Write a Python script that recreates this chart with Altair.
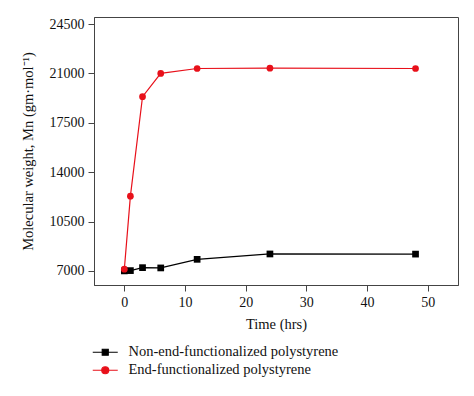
import altair as alt
import pandas as pd

time_hrs = [0, 1, 3, 6, 12, 24, 48]
non_end_mw = [7000, 7020, 7230, 7210, 7820, 8200, 8190]
end_mw = [7120, 12300, 19350, 21000, 21350, 21370, 21350]
series_names = ["Non-end-functionalized polystyrene", "End-functionalized polystyrene"]
series_colors = ["#000000", "#e8101a"]
x_ticks = [0, 10, 20, 30, 40, 50]
y_ticks = [7000, 10500, 14000, 17500, 21000, 24500]

rows = []
for t, v in zip(time_hrs, non_end_mw):
    rows.append({"t": t, "mw": v, "series": series_names[0]})
for t, v in zip(time_hrs, end_mw):
    rows.append({"t": t, "mw": v, "series": series_names[1]})
df = pd.DataFrame(rows)

FONT = "Liberation Serif"

x = alt.X("t:Q",
          scale=alt.Scale(domain=[-5, 55], nice=False, zero=False),
          axis=alt.Axis(values=x_ticks, title="Time (hrs)", grid=False,
                        tickSize=6, labelPadding=4, titlePadding=8,
                        titleFontWeight="normal"))
y = alt.Y("mw:Q",
          scale=alt.Scale(domain=[6000, 25000], nice=False, zero=False),
          axis=alt.Axis(values=y_ticks, title="Molecular weight, Mn (gm·mol⁻¹)",
                        grid=False, format="d", tickSize=6, labelPadding=4,
                        titlePadding=14, titleFontWeight="normal"))

color_scale = alt.Scale(domain=series_names, range=series_colors)

lines = alt.Chart(df).mark_line(strokeWidth=1.2).encode(
    x=x, y=y, color=alt.Color("series:N", scale=color_scale, legend=None))
points = alt.Chart(df).mark_point(filled=True, size=45, opacity=1).encode(
    x=x, y=y,
    color=alt.Color("series:N", scale=color_scale, legend=None),
    shape=alt.Shape("series:N",
                    scale=alt.Scale(domain=series_names, range=["square", "circle"]),
                    legend=None),
)

# legend-only layer: symbols = line with marker (r = 5 px units)
sq = "M-2.5,0H2.5M-0.6,-0.6H0.6V0.6H-0.6Z"
ci = "M-2.5,0H2.5M-0.7,0A0.7,0.7,0,1,0,0.7,0A0.7,0.7,0,1,0,-0.7,0Z"
leg = alt.Legend(
    title=None, orient="none", legendX=4, legendY=328,
    symbolSize=100, symbolStrokeWidth=1.2, symbolOpacity=1,
    labelFont=FONT, labelFontSize=14.5, labelColor="#111", labelLimit=0,
    rowPadding=3, labelOffset=16, padding=0,
)
legend_layer = alt.Chart(df).transform_filter("false").mark_point(
    filled=True, strokeWidth=1.2, size=100).encode(
    x=x, y=y,
    fill=alt.Fill("series:N", scale=color_scale, legend=leg),
    stroke=alt.Stroke("series:N", scale=color_scale, legend=leg),
    shape=alt.Shape("series:N", scale=alt.Scale(domain=series_names, range=[sq, ci]),
                    legend=leg),
)

chart = (
    alt.layer(lines, points, legend_layer)
    .resolve_scale(color="independent", shape="independent",
                   fill="independent", stroke="independent")
    .properties(width=364, height=268,
                autosize=alt.AutoSizeParams(type="none"),
                padding={"left": 86, "top": 9, "right": 8, "bottom": 103})
    .configure_view(stroke="#444", strokeWidth=1)
    .configure_axis(labelFont=FONT, titleFont=FONT, labelFontSize=14,
                    titleFontSize=14.5, titleFontWeight="normal",
                    labelColor="#111", titleColor="#111",
                    domainColor="#444", tickColor="#444")
)

chart.save("out.html", embed_options={"renderer": "svg", "actions": False})
